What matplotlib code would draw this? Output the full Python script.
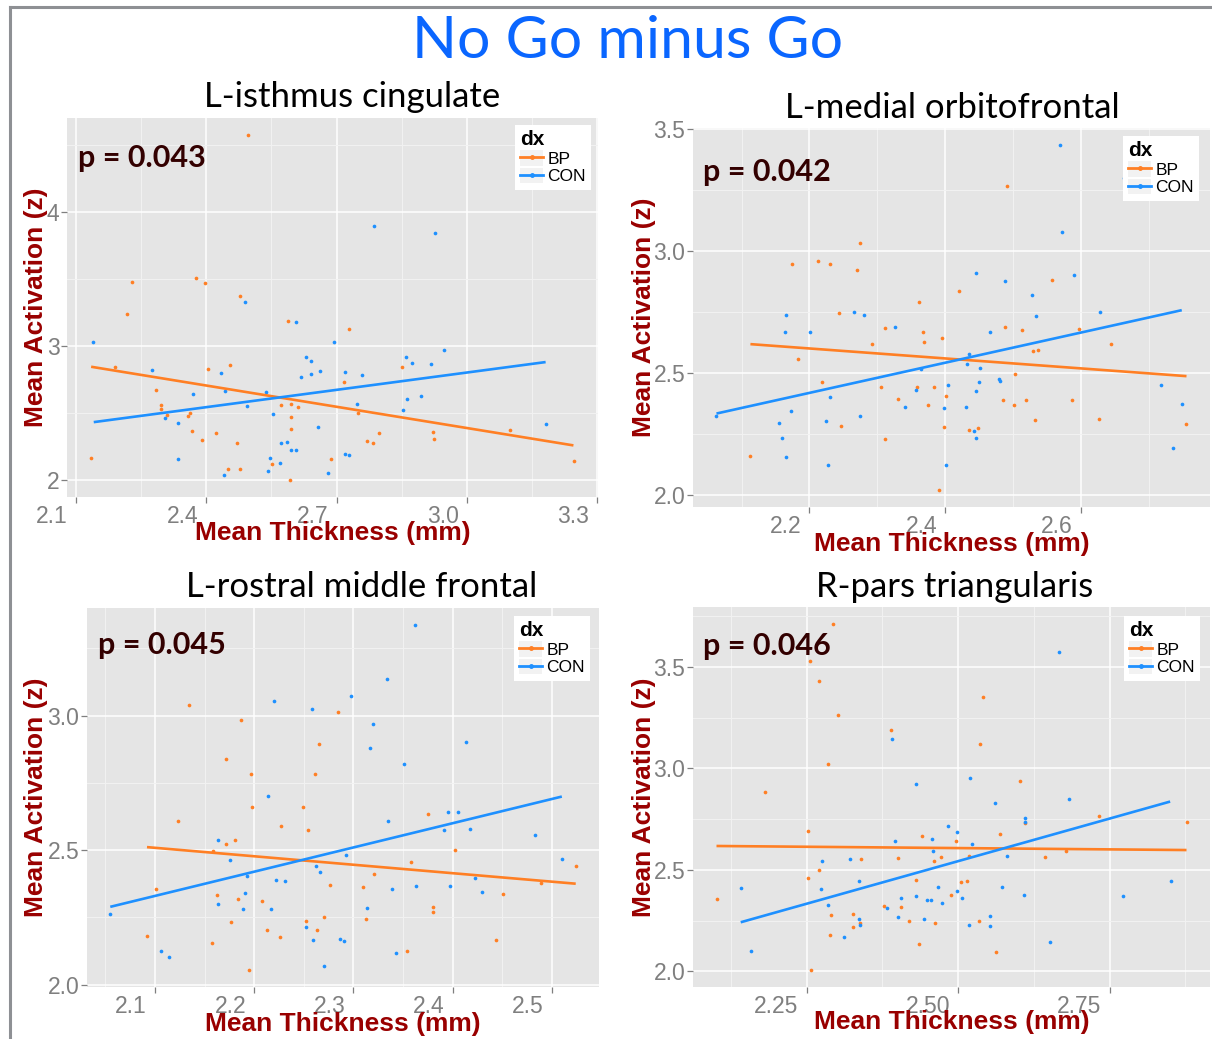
import numpy as np
import matplotlib
matplotlib.use('Agg')
import matplotlib.pyplot as plt
from matplotlib.lines import Line2D
from matplotlib.patches import Rectangle
from matplotlib.transforms import ScaledTranslation

W, H, DPI = 1212, 1039, 100

bp_col = '#FF7F24'
con_col = '#1E90FF'

main_title = 'No Go minus Go'
titles = ['L-isthmus cingulate', 'L-medial orbitofrontal',
          'L-rostral middle frontal', 'R-pars triangularis']
p_labels = ['p = 0.043', 'p = 0.042', 'p = 0.045', 'p = 0.046']

# L-isthmus cingulate
p1_bp_x = [2.495, 2.230, 2.218, 2.376, 2.397, 2.478, 2.589, 2.728, 2.190, 2.404, 2.454, 2.285, 2.296, 2.296,
           2.310, 2.363, 2.358, 2.367, 2.423, 2.391, 2.471, 2.449, 2.477, 2.135, 2.551, 2.573, 2.596, 2.611,
           2.596, 2.596, 2.592, 2.686, 2.716, 2.750, 2.771, 2.784, 2.798, 2.851, 2.921, 2.924, 3.098, 3.246]
p1_bp_y = [4.576, 3.481, 3.239, 3.509, 3.474, 3.377, 3.187, 3.127, 2.843, 2.828, 2.860, 2.671, 2.561, 2.529,
           2.484, 2.499, 2.474, 2.367, 2.349, 2.299, 2.272, 2.077, 2.080, 2.162, 2.117, 2.559, 2.566, 2.544,
           2.469, 2.382, 2.000, 2.152, 2.731, 2.499, 2.289, 2.274, 2.352, 2.840, 2.354, 2.302, 2.372, 2.137]
p1_con_x = [2.139, 2.490, 2.606, 2.695, 2.785, 2.927, 2.275, 2.433, 2.370, 2.444, 2.537, 2.494, 2.554, 2.304,
            2.334, 2.334, 2.440, 2.543, 2.547, 2.570, 2.571, 2.585, 2.596, 2.607, 2.656, 2.617, 2.629, 2.642,
            2.642, 2.662, 2.719, 2.758, 2.746, 2.681, 2.719, 2.729, 2.860, 2.874, 2.918, 2.947, 2.863, 2.894,
            2.853, 3.181]
p1_con_y = [3.032, 3.332, 3.182, 3.030, 3.898, 3.845, 2.823, 2.800, 2.643, 2.666, 2.653, 2.549, 2.494, 2.459,
            2.424, 2.155, 2.035, 2.065, 2.165, 2.122, 2.277, 2.284, 2.224, 2.219, 2.392, 2.768, 2.915, 2.885,
            2.793, 2.810, 2.805, 2.783, 2.566, 2.052, 2.190, 2.182, 2.918, 2.873, 2.863, 2.968, 2.603, 2.626,
            2.521, 2.416]
p1_bp_fit_x, p1_bp_fit_y = [2.135, 3.245], [2.845, 2.257]
p1_con_fit_x, p1_con_fit_y = [2.141, 3.181], [2.431, 2.880]

# L-medial orbitofrontal
p2_bp_x = [2.492, 2.274, 2.175, 2.212, 2.230, 2.270, 2.243, 2.420, 2.361, 2.311, 2.368, 2.369, 2.396, 2.292,
           2.183, 2.489, 2.513, 2.557, 2.598, 2.644, 2.529, 2.537, 2.503, 2.219, 2.305, 2.359, 2.384, 2.331,
           2.401, 2.375, 2.485, 2.502, 2.519, 2.587, 2.246, 2.398, 2.436, 2.449, 2.533, 2.627, 2.311, 2.113,
           2.391, 2.756]
p2_bp_y = [3.265, 3.030, 2.944, 2.957, 2.945, 2.922, 2.745, 2.835, 2.790, 2.685, 2.668, 2.627, 2.642, 2.618,
           2.559, 2.689, 2.674, 2.880, 2.680, 2.620, 2.589, 2.593, 2.496, 2.464, 2.442, 2.442, 2.442, 2.394,
           2.404, 2.367, 2.390, 2.368, 2.390, 2.390, 2.282, 2.278, 2.267, 2.275, 2.308, 2.310, 2.228, 2.162,
           2.022, 2.290]
p2_con_x = [2.570, 2.664, 2.572, 2.445, 2.489, 2.590, 2.528, 2.534, 2.629, 2.166, 2.164, 2.201, 2.266, 2.280,
            2.326, 2.467, 2.436, 2.433, 2.452, 2.364, 2.450, 2.405, 2.480, 2.481, 2.357, 2.445, 2.231, 2.341,
            2.399, 2.431, 2.173, 2.275, 2.155, 2.225, 2.442, 2.446, 2.160, 2.165, 2.227, 2.402, 2.063, 2.719,
            2.736, 2.750]
p2_con_y = [3.432, 3.297, 3.075, 2.910, 2.878, 2.901, 2.820, 2.735, 2.749, 2.738, 2.668, 2.667, 2.749, 2.736,
            2.689, 2.667, 2.578, 2.535, 2.522, 2.517, 2.461, 2.449, 2.477, 2.468, 2.432, 2.427, 2.402, 2.361,
            2.355, 2.361, 2.345, 2.322, 2.295, 2.303, 2.263, 2.235, 2.232, 2.155, 2.125, 2.125, 2.323, 2.450,
            2.192, 2.375]
p2_bp_fit_x, p2_bp_fit_y = [2.113, 2.756], [2.618, 2.487]
p2_con_fit_x, p2_con_fit_y = [2.063, 2.749], [2.334, 2.757]

# L-rostral middle frontal
p3_bp_x = [2.134, 2.187, 2.284, 2.172, 2.265, 2.197, 2.261, 2.198, 2.249, 2.123, 2.227, 2.254, 2.181, 2.172,
           2.159, 2.375, 2.402, 2.358, 2.321, 2.310, 2.276, 2.101, 2.163, 2.184, 2.208, 2.380, 2.380, 2.451,
           2.489, 2.524, 2.177, 2.270, 2.252, 2.213, 2.263, 2.313, 2.092, 2.157, 2.226, 2.195, 2.354, 2.444]
p3_bp_y = [3.041, 2.985, 3.012, 2.837, 2.895, 2.783, 2.783, 2.660, 2.661, 2.609, 2.589, 2.573, 2.538, 2.521,
           2.496, 2.633, 2.501, 2.455, 2.411, 2.361, 2.370, 2.356, 2.334, 2.318, 2.309, 2.289, 2.270, 2.336,
           2.376, 2.442, 2.231, 2.252, 2.236, 2.202, 2.202, 2.243, 2.179, 2.154, 2.177, 2.055, 2.124, 2.164]
p3_con_x = [2.362, 2.334, 2.298, 2.220, 2.258, 2.320, 2.317, 2.413, 2.351, 2.214, 2.335, 2.395, 2.405, 2.417,
            2.391, 2.483, 2.164, 2.176, 2.193, 2.262, 2.266, 2.293, 2.222, 2.231, 2.363, 2.397, 2.423, 2.510,
            2.339, 2.191, 2.430, 2.164, 2.189, 2.217, 2.314, 2.055, 2.252, 2.259, 2.286, 2.291, 2.106, 2.114,
            2.343, 2.270]
p3_con_y = [3.336, 3.136, 3.072, 3.053, 3.025, 2.969, 2.878, 2.900, 2.820, 2.700, 2.607, 2.640, 2.640, 2.578,
            2.573, 2.555, 2.538, 2.462, 2.402, 2.442, 2.418, 2.480, 2.387, 2.385, 2.366, 2.368, 2.395, 2.468,
            2.354, 2.342, 2.344, 2.301, 2.282, 2.282, 2.285, 2.262, 2.215, 2.166, 2.170, 2.161, 2.125, 2.103,
            2.118, 2.069]
p3_bp_fit_x, p3_bp_fit_y = [2.092, 2.524], [2.511, 2.375]
p3_con_fit_x, p3_con_fit_y = [2.055, 2.510], [2.289, 2.699]

# R-pars triangularis
p4_bp_x = [2.293, 2.255, 2.271, 2.301, 2.389, 2.541, 2.536, 2.285, 2.181, 2.602, 2.252, 2.569, 2.733, 2.877,
           2.441, 2.496, 2.340, 2.401, 2.472, 2.460, 2.518, 2.643, 2.678, 2.270, 2.252, 2.430, 2.504, 2.515,
           2.488, 2.101, 2.377, 2.405, 2.290, 2.327, 2.338, 2.326, 2.419, 2.462, 2.534, 2.289, 2.435, 2.563,
           2.257, 2.611]
p4_bp_y = [3.711, 3.528, 3.429, 3.266, 3.192, 3.352, 3.119, 3.024, 2.883, 2.936, 2.694, 2.677, 2.766, 2.737,
           2.668, 2.643, 2.554, 2.559, 2.564, 2.546, 2.569, 2.565, 2.592, 2.501, 2.460, 2.450, 2.440, 2.443,
           2.374, 2.359, 2.323, 2.318, 2.280, 2.284, 2.239, 2.218, 2.247, 2.236, 2.247, 2.180, 2.135, 2.094,
           2.008, 2.729]
p4_con_x = [2.667, 2.391, 2.519, 2.430, 2.560, 2.683, 2.611, 2.610, 2.483, 2.498, 2.396, 2.456, 2.523, 2.459,
            2.581, 2.322, 2.276, 2.336, 2.851, 2.141, 2.273, 2.467, 2.572, 2.498, 2.506, 2.609, 2.772, 2.406,
            2.430, 2.449, 2.455, 2.473, 2.285, 2.382, 2.401, 2.443, 2.553, 2.337, 2.338, 2.518, 2.552, 2.312,
            2.651, 2.158]
p4_con_y = [3.574, 3.146, 2.953, 2.925, 2.832, 2.852, 2.755, 2.735, 2.717, 2.687, 2.644, 2.653, 2.630, 2.595,
            2.567, 2.554, 2.544, 2.445, 2.443, 2.410, 2.407, 2.417, 2.414, 2.396, 2.361, 2.374, 2.371, 2.364,
            2.369, 2.354, 2.354, 2.336, 2.326, 2.313, 2.267, 2.259, 2.274, 2.260, 2.229, 2.227, 2.223, 2.171,
            2.145, 2.099]
p4_bp_fit_x, p4_bp_fit_y = [2.101, 2.877], [2.618, 2.598]
p4_con_fit_x, p4_con_fit_y = [2.141, 2.850], [2.242, 2.837]

# tick breaks
x_breaks = [[2.1, 2.4, 2.7, 3.0, 3.3], [2.2, 2.4, 2.6], [2.1, 2.2, 2.3, 2.4, 2.5], [2.25, 2.50, 2.75]]
x_tick_labels = [['2.1', '2.4', '2.7', '3.0', '3.3'], ['2.2', '2.4', '2.6'],
                 ['2.1', '2.2', '2.3', '2.4', '2.5'], ['2.25', '2.50', '2.75']]
y_breaks = [[2, 3, 4], [2.0, 2.5, 3.0, 3.5], [2.0, 2.5, 3.0], [2.0, 2.5, 3.0, 3.5]]
y_tick_labels = [['2', '3', '4'], ['2.0', '2.5', '3.0', '3.5'], ['2.0', '2.5', '3.0'],
                 ['2.0', '2.5', '3.0', '3.5']]

panels = [
    (p1_bp_x, p1_bp_y, p1_con_x, p1_con_y, p1_bp_fit_x, p1_bp_fit_y, p1_con_fit_x, p1_con_fit_y),
    (p2_bp_x, p2_bp_y, p2_con_x, p2_con_y, p2_bp_fit_x, p2_bp_fit_y, p2_con_fit_x, p2_con_fit_y),
    (p3_bp_x, p3_bp_y, p3_con_x, p3_con_y, p3_bp_fit_x, p3_bp_fit_y, p3_con_fit_x, p3_con_fit_y),
    (p4_bp_x, p4_bp_y, p4_con_x, p4_con_y, p4_bp_fit_x, p4_bp_fit_y, p4_con_fit_x, p4_con_fit_y),
]

# layout in pixels: panel box (l, t, r, b), title (cx, baseline), p text (x, cy),
# y label x, x label cy, legend (right, top)
layout = [
    dict(box=(67, 118, 598, 497), title=(352, 107), p=(78, 158), ylab=36, xlab=533, leg=(591, 125)),
    dict(box=(693, 128, 1210, 507), title=(952, 118), p=(703, 172), ylab=644, xlab=544, leg=(1199, 136)),
    dict(box=(87, 608, 599, 987), title=(362, 597), p=(98, 645), ylab=36, xlab=1024, leg=(590, 616)),
    dict(box=(693, 607, 1210, 987), title=(955, 597), p=(703, 646), ylab=644, xlab=1022, leg=(1200, 616)),
]


def fx(x):
    return x / W


def fy(y):
    return 1 - y / H


def minor_breaks(br):
    step = br[1] - br[0]
    return [br[0] - step / 2] + [b + step / 2 for b in br]


fig = plt.figure(figsize=(W / DPI, H / DPI), dpi=DPI)
fig.patch.set_facecolor('white')

fig.text(fx(628), fy(58), main_title, ha='center', va='baseline', fontsize=42.5,
         color='#0A66FF', family='Lato')

title_col = '#990000'

for i, (d, lay) in enumerate(zip(panels, layout)):
    bx, by, cx, cy, bfx, bfy, cfx, cfy = d
    l, t, r, b = lay['box']
    ax = fig.add_axes([fx(l), fy(b), (r - l) / W, (b - t) / H])
    ax.set_facecolor('#E5E5E5')
    for s in ax.spines.values():
        s.set_visible(False)

    ax.scatter(bx, by, s=7, color=bp_col, linewidths=0, zorder=3)
    ax.scatter(cx, cy, s=7, color=con_col, linewidths=0, zorder=3)
    ax.plot(bfx, bfy, color=bp_col, lw=1.9, zorder=4, solid_capstyle='butt')
    ax.plot(cfx, cfy, color=con_col, lw=1.9, zorder=4, solid_capstyle='butt')

    xl, yl = ax.get_xlim(), ax.get_ylim()
    ax.set_xticks(x_breaks[i])
    ax.set_xticklabels(x_tick_labels[i])
    ax.set_yticks(y_breaks[i])
    ax.set_yticklabels(y_tick_labels[i])
    ax.set_xticks(minor_breaks(x_breaks[i]), minor=True)
    ax.set_yticks(minor_breaks(y_breaks[i]), minor=True)
    ax.set_xlim(xl)
    ax.set_ylim(yl)

    ax.set_axisbelow(True)
    ax.grid(which='major', color='white', lw=1.1)
    ax.grid(which='minor', color='#F2F2F2', lw=0.7)
    ax.tick_params(which='major', length=4, width=0.9, color='#7F7F7F',
                   labelcolor='#7F7F7F', labelsize=16.5, pad=1.5)
    ax.tick_params(which='minor', length=0)
    for lab in ax.get_xticklabels():
        lab.set_family('Liberation Sans')
        lab.set_ha('right')
        lab.set_transform(lab.get_transform() + ScaledTranslation(-8 / DPI, 0, fig.dpi_scale_trans))
    for lab in ax.get_yticklabels():
        lab.set_family('Liberation Sans')

    # titles and labels
    fig.text(fx(lay['title'][0]), fy(lay['title'][1]), titles[i], ha='center', va='baseline',
             fontsize=25, color='black', family='Lato')
    fig.text(fx(lay['p'][0]), fy(lay['p'][1]), p_labels[i], ha='left', va='center',
             fontsize=22, color='#330000', family='Lato', fontweight='bold')
    fig.text(fx(lay['ylab']), fy((t + b) / 2), 'Mean Activation (z)', rotation=90,
             ha='center', va='center', fontsize=19, color=title_col,
             family='Liberation Sans', fontweight='bold')
    fig.text(fx((l + r) / 2), fy(lay['xlab']), 'Mean Thickness (mm)', ha='center', va='center',
             fontsize=19, color=title_col, family='Liberation Sans', fontweight='bold')

    # legend
    h_bp = (Rectangle((0, 0), 1, 1, facecolor='#F2F2F2', edgecolor='none'),
            Line2D([], [], color=bp_col, lw=2, marker='o', ms=2.5))
    h_con = (Rectangle((0, 0), 1, 1, facecolor='#F2F2F2', edgecolor='none'),
             Line2D([], [], color=con_col, lw=2, marker='o', ms=2.5))
    leg = ax.legend([h_bp, h_con], ['BP', 'CON'], title='dx', loc='upper right',
                    bbox_to_anchor=(fx(lay['leg'][0]), fy(lay['leg'][1])),
                    bbox_transform=fig.transFigure, borderaxespad=0,
                    prop={'family': 'Liberation Sans', 'size': 12.5},
                    title_fontproperties={'family': 'Liberation Sans', 'size': 15, 'weight': 'bold'},
                    frameon=True, facecolor='white', edgecolor='none', framealpha=1, fancybox=False,
                    handlelength=1.3, handleheight=1.0, handletextpad=0.25, labelspacing=0.05,
                    borderpad=0.3, alignment='left')
    leg.set_zorder(6)

# outer frame
frame_col = '#8E9094'
fig.add_artist(Line2D([fx(10), fx(10)], [fy(7), fy(H + 5)], color=frame_col, lw=2.2,
                      transform=fig.transFigure))
fig.add_artist(Line2D([fx(10), fx(W + 5)], [fy(7), fy(7)], color=frame_col, lw=2.2,
                      transform=fig.transFigure))

fig.savefig('out.png', dpi=DPI)
